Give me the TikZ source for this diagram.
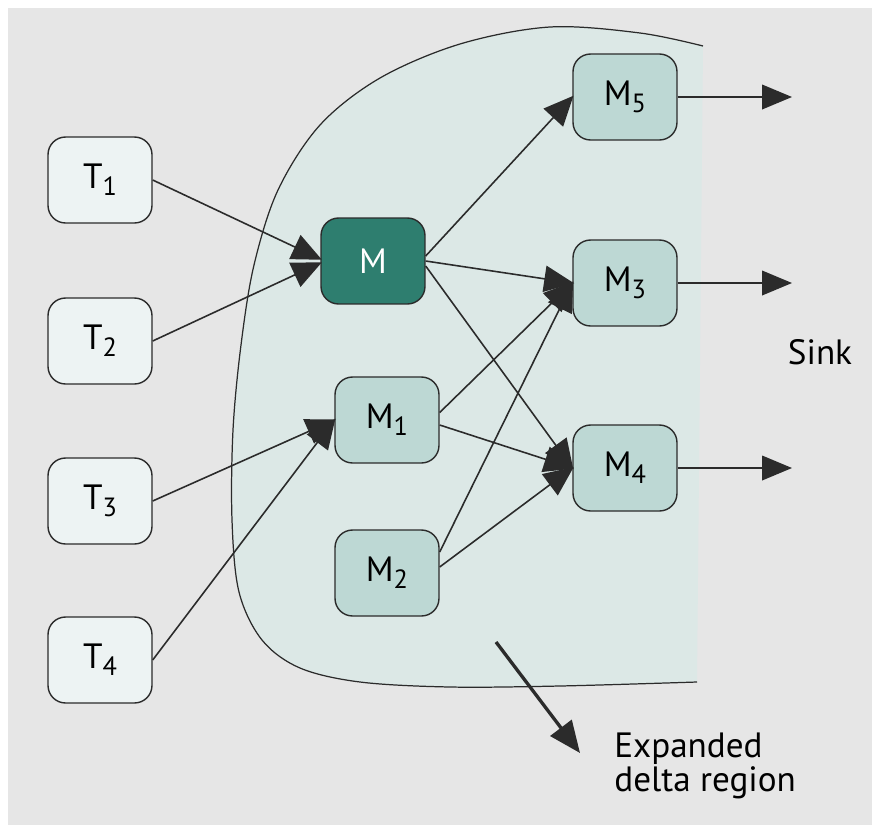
\documentclass[tikz,border=0pt]{standalone}
\usepackage{fontspec}
\setmainfont{PT Sans}
\usetikzlibrary{arrows.meta}

\definecolor{pagegray}{HTML}{E6E6E6}
\definecolor{regionfill}{HTML}{DCE8E6}
\definecolor{tfill}{HTML}{EDF3F3}
\definecolor{mfill}{HTML}{BDD8D4}
\definecolor{mdark}{HTML}{2E7E6F}
\definecolor{linecol}{HTML}{2B2B2B}

% letter with a lowered index in the text font
\newcommand\idx[2]{#1\raisebox{-0.42ex}{\fontsize{15}{15}\selectfont #2}}

\begin{document}
\begin{tikzpicture}[x=0.02cm, y=-0.02cm,
  nodebox/.style={draw=linecol, line width=0.8pt, rounded corners=10pt,
    minimum width=2.08cm, minimum height=1.72cm, inner sep=0pt,
    font=\fontsize{20}{24}\selectfont, text=black},
  tbox/.style={nodebox, fill=tfill},
  mbox/.style={nodebox, fill=mfill},
  hub/.style={nodebox, fill=mdark, text=white},
  link/.style={draw=linecol, line width=0.9pt,
    -{Triangle[length=17pt, width=15pt]}, shorten >=-1pt},
  outlink/.style={draw=linecol, line width=0.9pt,
    -{Triangle[length=17pt, width=14pt]}},
  pointer/.style={draw=linecol, line width=1.9pt,
    -{Triangle[length=18pt, width=15pt]}},
  caption/.style={font=\fontsize{20}{18}\selectfont, text=black}
]
% page
\useasboundingbox (0,0) rectangle (872,825);
\fill[white] (0,0) rectangle (872,825);
\fill[pagegray] (8,8) rectangle (872,825);

% expanded delta region
\fill[regionfill] plot[smooth, tension=0.55] coordinates {
  (703,46) (640,33) (550,27) (460,44) (380,78) (320,125) (278,190)
  (254,265) (241,345) (233,430) (232,520) (239,592) (262,640) (300,668)
  (360,682) (450,687) (560,686) (697,682)} -- cycle;
\draw[linecol, line width=0.7pt] plot[smooth, tension=0.55] coordinates {
  (703,46) (640,33) (550,27) (460,44) (380,78) (320,125) (278,190)
  (254,265) (241,345) (233,430) (232,520) (239,592) (262,640) (300,668)
  (360,682) (450,687) (560,686) (697,682)};

% sources
\node[tbox] (T1) at (100,180) {\idx{T}{1}};
\node[tbox] (T2) at (100,341) {\idx{T}{2}};
\node[tbox] (T3) at (100,501) {\idx{T}{3}};
\node[tbox] (T4) at (100,660) {\idx{T}{4}};

% region members
\node[hub]  (M)  at (373,261) {M};
\node[mbox] (M1) at (387,420) {\idx{M}{1}};
\node[mbox] (M2) at (387,573) {\idx{M}{2}};
\node[mbox] (M5) at (625,97)  {\idx{M}{5}};
\node[mbox] (M3) at (625,283) {\idx{M}{3}};
\node[mbox] (M4) at (625,468) {\idx{M}{4}};

% sink ends
\coordinate (o5) at (792,97);
\coordinate (o3) at (792,283);
\coordinate (o4) at (792,468);

% links
\draw[link] (T1.east) -- ([yshift=0.04cm]M.west);
\draw[link] (T2.east) -- ([yshift=-0.04cm]M.west);
\draw[link] (T3.east) -- (M1.west);
\draw[link] (T4.east) -- (M1.west);

\draw[link] ([yshift=0.1cm]M.east) -- (M5.west);
\draw[link] (M.east) -- (M3.west);
\draw[link] ([yshift=-0.1cm]M.east) -- (M4.west);
\draw[link] ([yshift=0.15cm]M1.east) -- (M3.west);
\draw[link] ([yshift=-0.1cm]M1.east) -- (M4.west);
\draw[link] ([yshift=0.42cm]M2.east) -- (M3.west);
\draw[link] ([yshift=0.12cm]M2.east) -- (M4.west);

\draw[outlink] (M5.east) -- (o5);
\draw[outlink] (M3.east) -- (o3);
\draw[outlink] (M4.east) -- (o4);

% labels
\node[caption] (sink) at (820,352) {Sink};
\node[caption, anchor=north west, align=left, inner sep=0pt] (exp) at (614,733)
  {Expanded\\delta region};

\coordinate (ea) at (496,642);
\coordinate (eb) at (580,753);
\draw[pointer] (ea) -- (eb);
\end{tikzpicture}
\end{document}
